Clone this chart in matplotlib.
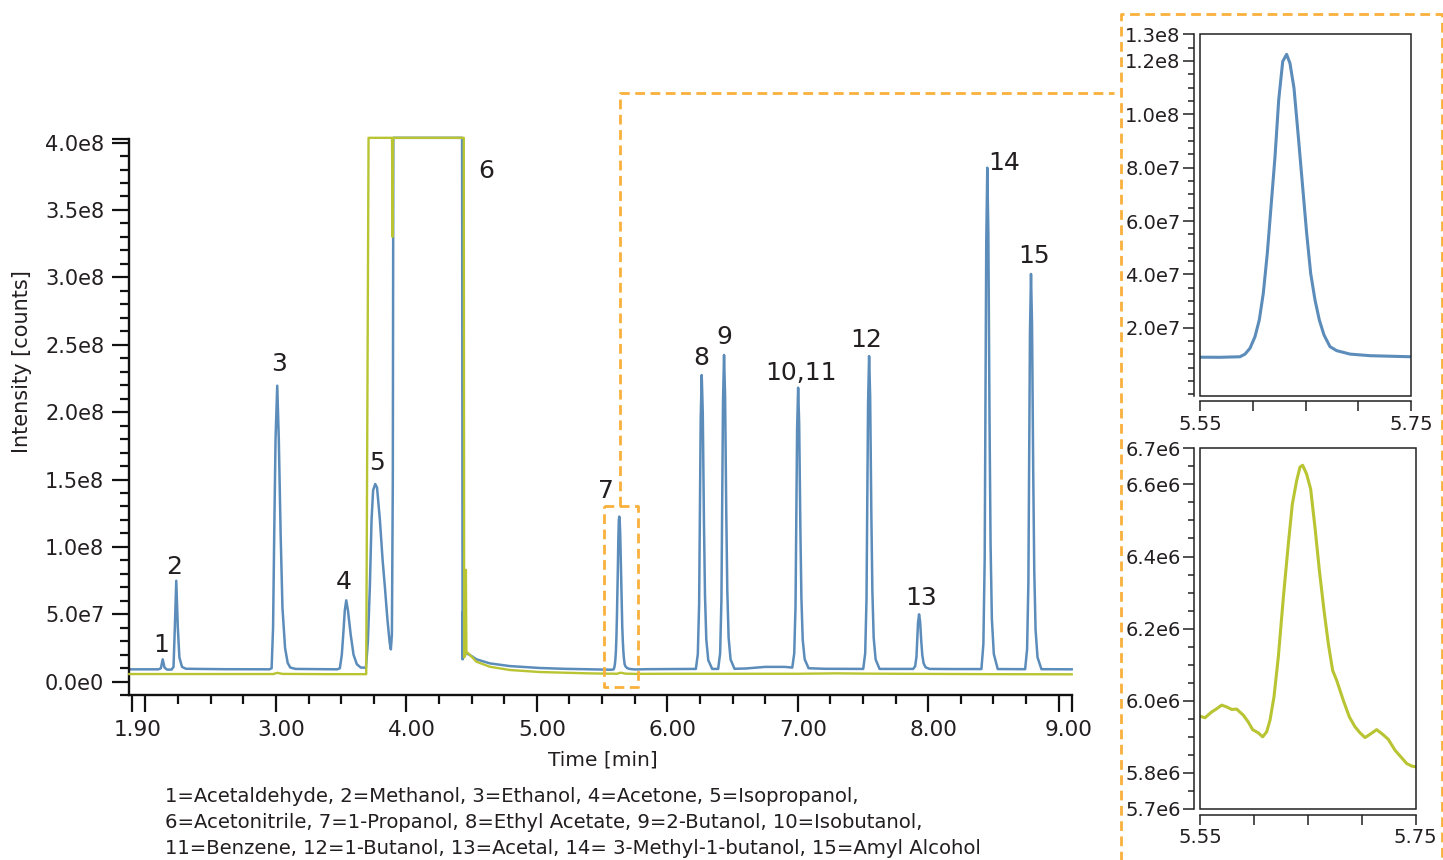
import matplotlib
matplotlib.use("Agg")
import matplotlib.pyplot as plt
from matplotlib.patches import Rectangle
from matplotlib.lines import Line2D
from matplotlib.ticker import MultipleLocator
from matplotlib.transforms import ScaledTranslation

plt.rcParams['font.family'] = ['DejaVu Sans']
plt.rcParams['lines.scale_dashes'] = False

# ---------------- data ----------------
SAT = 4.035e8  # detector saturation level

blue_time = [
    1.876, 2.05, 2.10, 2.118, 2.132, 2.146, 2.165,
    2.20, 2.215, 2.225, 2.236, 2.248, 2.26, 2.28, 2.31, 2.6,
    2.95, 2.967, 2.978, 2.987, 2.997, 3.01, 3.022, 3.036, 3.05, 3.07, 3.09, 3.11, 3.15,
    3.47, 3.49, 3.505, 3.516, 3.528, 3.539, 3.552, 3.573, 3.595, 3.62, 3.65,
    3.69, 3.705, 3.720, 3.733, 3.745, 3.761, 3.775, 3.797, 3.818, 3.835, 3.855, 3.872, 3.881,
    3.889, 3.896, 3.900, 4.427, 4.431, 4.434, 4.437, 4.45, 4.487, 4.538, 4.64, 4.793, 5.02, 5.20, 5.40,
    5.55, 5.569, 5.5879, 5.5927, 5.5974, 5.6021, 5.6062, 5.6100, 5.6138, 5.6176, 5.6211, 5.6246,
    5.6284, 5.6321, 5.6353, 5.6391, 5.6432, 5.6473, 5.6511, 5.6549, 5.6590, 5.6631, 5.6675,
    5.6732, 5.6795, 5.6922, 5.7111, 5.7301, 5.75,
    5.85, 6.0, 6.2,
    6.219, 6.234, 6.244, 6.2495, 6.256, 6.264, 6.272, 6.281, 6.289, 6.299, 6.314, 6.344,
    6.390, 6.405, 6.415, 6.4205, 6.427, 6.435, 6.443, 6.452, 6.460, 6.470, 6.485, 6.515,
    6.60, 6.75, 6.90,
    6.958, 6.973, 6.983, 6.9885, 6.995, 7.003, 7.011, 7.020, 7.028, 7.038, 7.053, 7.083,
    7.2, 7.45,
    7.502, 7.517, 7.527, 7.5325, 7.539, 7.547, 7.555, 7.564, 7.572, 7.582, 7.597, 7.627,
    7.8,
    7.885, 7.900, 7.910, 7.9155, 7.922, 7.930, 7.938, 7.947, 7.955, 7.965, 7.980, 8.010,
    8.2,
    8.408, 8.423, 8.433, 8.4385, 8.445, 8.453, 8.461, 8.470, 8.478, 8.488, 8.503, 8.533,
    8.65,
    8.743, 8.758, 8.768, 8.7735, 8.780, 8.788, 8.796, 8.805, 8.813, 8.823, 8.838, 8.868,
    9.10,
]
blue_intensity = [
    9.2e6, 9.2e6, 9.2e6, 1.0e7, 1.66e7, 1.05e7, 9.0e6,
    9.0e6, 1.1e7, 4.0e7, 7.49e7, 4.0e7, 1.8e7, 1.1e7, 9.6e6, 9.3e6,
    9.2e6, 1.0e7, 4.0e7, 1.1e8, 1.8e8, 2.196e8, 1.8e8, 1.1e8, 5.5e7, 2.5e7, 1.4e7, 1.05e7, 9.5e6,
    9.2e6, 1.0e7, 2.0e7, 3.5e7, 5.3e7, 6.04e7, 5.3e7, 3.5e7, 2.0e7, 1.3e7, 1.05e7,
    1.04e7, 3.0e7, 7.05e7, 1.2e8, 1.42e8, 1.467e8, 1.44e8, 1.2e8, 9.0e7, 7.05e7, 4.58e7, 2.9e7, 2.4e7,
    3.5e7, 1.5e8, SAT, SAT, 1.66e7, 5.2e7, 2.2e7, 2.15e7, 1.98e7, 1.66e7, 1.36e7, 1.16e7, 1.02e7, 9.6e6, 9.2e6,
    8.9e6, 8.9e6, 9.1e6, 1.01e7, 1.23e7, 1.66e7, 2.29e7, 3.29e7, 4.79e7, 6.66e7, 8.41e7, 1.054e8,
    1.198e8, 1.225e8, 1.191e8, 1.098e8, 9.16e7, 7.29e7, 5.54e7, 4.04e7, 3.04e7, 2.29e7, 1.73e7,
    1.29e7, 1.14e7, 1.01e7, 9.5e6, 9.3e6, 9.1e6,
    9.3e6, 9.4e6, 9.5e6,
    9.5e6, 2.04e7, 5.75e7, 1.185e8, 1.948e8, 2.275e8, 1.992e8, 1.185e8, 6.4e7, 3.13e7, 1.6e7, 9.5e6,
    9.5e6, 2.1e7, 6.07e7, 1.26e8, 2.075e8, 2.424e8, 2.121e8, 1.26e8, 6.77e7, 3.28e7, 1.65e7, 9.6e6,
    9.8e6, 1.1e7, 1.1e7,
    1.05e7, 2.09e7, 5.62e7, 1.143e8, 1.87e8, 2.181e8, 1.911e8, 1.143e8, 6.24e7, 3.13e7, 1.67e7, 1.0e7,
    9.6e6, 9.5e6,
    9.5e6, 2.11e7, 6.06e7, 1.256e8, 2.068e8, 2.416e8, 2.114e8, 1.256e8, 6.75e7, 3.27e7, 1.65e7, 9.5e6,
    9.5e6,
    9.5e6, 1.15e7, 1.84e7, 2.98e7, 4.39e7, 5.0e7, 4.47e7, 2.98e7, 1.96e7, 1.36e7, 1.07e7, 9.5e6,
    9.4e6,
    9.4e6, 2.8e7, 9.12e7, 1.954e8, 3.255e8, 3.813e8, 3.33e8, 1.954e8, 1.024e8, 4.66e7, 2.06e7, 9.4e6,
    9.3e6,
    9.3e6, 2.4e7, 7.38e7, 1.559e8, 2.585e8, 3.025e8, 2.644e8, 1.559e8, 8.26e7, 3.86e7, 1.81e7, 9.3e6,
    9.2e6,
]

green_time = [
    1.876, 2.6, 2.98, 3.01, 3.05, 3.4, 3.692, 3.71, 3.890, 3.894, 3.898, 4.440, 4.443,
    4.452, 4.456, 4.460, 4.475, 4.538, 4.64, 4.793, 5.02, 5.40,
    5.55, 5.5546, 5.5608, 5.5655, 5.5701, 5.5747, 5.5794, 5.5840, 5.5902, 5.5948, 5.5988,
    5.6041, 5.6081, 5.6118, 5.6149, 5.6186, 5.6226, 5.6273, 5.6319, 5.6356, 5.6396, 5.6427,
    5.6452, 5.6489, 5.6526, 5.6566, 5.6607, 5.6650, 5.6690, 5.6730, 5.6767, 5.6829, 5.6885,
    5.6937, 5.6984, 5.7030, 5.7076, 5.7138, 5.7194, 5.7246, 5.7308, 5.7355, 5.7417, 5.7463, 5.75,
    6.0, 6.5, 7.0, 7.3, 7.5, 8.0, 8.5, 9.10,
]
green_intensity = [
    5.7e6, 5.7e6, 5.7e6, 6.6e6, 5.8e6, 5.6e6, 5.6e6, SAT, SAT, 3.3e8, SAT, SAT, 1.8e7,
    2.0e7, 8.3e7, 2.2e7, 2.1e7, 1.48e7, 1.11e7, 8.7e6, 7.2e6, 6.2e6,
    5.957e6, 5.953e6, 5.969e6, 5.978e6, 5.988e6, 5.983e6, 5.976e6, 5.977e6, 5.960e6, 5.941e6, 5.920e6,
    5.911e6, 5.900e6, 5.914e6, 5.946e6, 6.011e6, 6.121e6, 6.287e6, 6.435e6, 6.545e6, 6.610e6, 6.648e6,
    6.653e6, 6.628e6, 6.587e6, 6.481e6, 6.361e6, 6.250e6, 6.158e6, 6.084e6, 6.057e6, 6.001e6, 5.955e6,
    5.928e6, 5.911e6, 5.898e6, 5.907e6, 5.920e6, 5.907e6, 5.893e6, 5.863e6, 5.847e6, 5.826e6, 5.819e6, 5.817e6,
    5.9e6, 5.9e6, 5.9e6, 6.2e6, 6.0e6, 5.8e6, 5.6e6, 5.5e6,
]

peak_labels = ['1', '2', '3', '4', '5', '6', '7', '8', '9', '10,11', '12', '13', '14', '15']
peak_time = [2.132, 2.236, 3.01, 3.539, 3.761, 4.431, 5.632, 6.264, 6.435, 7.003, 7.547, 7.93, 8.453, 8.788]
peak_height = [1.66e7, 7.49e7, 2.196e8, 6.04e7, 1.467e8, SAT, 1.225e8, 2.275e8, 2.424e8, 2.181e8,
               2.416e8, 5.0e7, 3.813e8, 3.025e8]

y_tick_values = [0, 5e7, 1e8, 1.5e8, 2e8, 2.5e8, 3e8, 3.5e8, 4e8]
y_tick_labels = ['0.0e0', '5.0e7', '1.0e8', '1.5e8', '2.0e8', '2.5e8', '3.0e8', '3.5e8', '4.0e8']
x_tick_values = [1.90, 2, 3, 4, 5, 6, 7, 8, 9, 9.10]
x_tick_labels = ['1.90', '', '3.00', '4.00', '5.00', '6.00', '7.00', '8.00', '9.00', '']

inset1_y_values = [2e7, 4e7, 6e7, 8e7, 1e8, 1.2e8, 1.3e8]
inset1_y_labels = ['2.0e7', '4.0e7', '6.0e7', '8.0e7', '1.0e8', '1.2e8', '1.3e8']
inset2_y_values = [5.7e6, 5.8e6, 6.0e6, 6.2e6, 6.4e6, 6.6e6, 6.7e6]
inset2_y_labels = ['5.7e6', '5.8e6', '6.0e6', '6.2e6', '6.4e6', '6.6e6', '6.7e6']
inset_x_values = [5.55, 5.60, 5.65, 5.70, 5.75]
inset_x_labels = ['5.55', '', '', '', '5.75']

legend_lines = [
    "1=Acetaldehyde, 2=Methanol, 3=Ethanol, 4=Acetone, 5=Isopropanol,",
    "6=Acetonitrile, 7=1-Propanol, 8=Ethyl Acetate, 9=2-Butanol, 10=Isobutanol,",
    "11=Benzene, 12=1-Butanol, 13=Acetal, 14= 3-Methyl-1-butanol, 15=Amyl Alcohol",
]

# ---------------- style ----------------
BLUE = '#5B8CBA'
GREEN = '#B8C432'
ORANGE = '#FAB03C'
TXT = '#231F20'
W, H = 1443, 860

# label offsets (pixels) relative to the peak apex
label_offsets = [(-2, 14), (-2, 14), (2, 22), (-2, 18), (2, 21), (24, -33), (-13, 26),
                 (0, 17), (0, 18), (3, 15), (-3, 16), (2, 16), (17, 5), (3, 18)]

fig = plt.figure(figsize=(W / 100, H / 100), dpi=100)

def fx(px):
    return px / W

def fy(py):
    return 1 - py / H

# ---------------- main axes ----------------
ax = fig.add_axes([fx(129.3), fy(695.2), (1071.7 - 129.3) / W, (695.2 - 138.5) / H])
ax.plot(blue_time, blue_intensity, color=BLUE, lw=1.8, clip_on=False, zorder=2,
        solid_joinstyle='round')
ax.plot(green_time, green_intensity, color=GREEN, lw=1.7, clip_on=False, zorder=3,
        solid_joinstyle='round')
ax.set_xlim(1.876, 9.10)
ax.set_ylim(-1.0e7, 4.03e8)
for s in ['top', 'right']:
    ax.spines[s].set_visible(False)
for s in ['left', 'bottom']:
    ax.spines[s].set_linewidth(1.7)
    ax.spines[s].set_color('#111111')

ax.set_yticks(y_tick_values + [4.03e8])
ax.set_yticklabels(y_tick_labels + [''])
ax.yaxis.set_minor_locator(MultipleLocator(1e7))
ax.set_xticks(x_tick_values)
ax.set_xticklabels(x_tick_labels)
ax.xaxis.set_minor_locator(MultipleLocator(0.25))
ax.tick_params(axis='both', which='major', direction='out', length=12, width=1.6,
               color='#111111', labelcolor=TXT)
ax.tick_params(axis='both', which='minor', direction='out', length=6.8, width=1.6, color='#111111')
ax.tick_params(axis='y', which='major', labelsize=15, pad=6)
ax.tick_params(axis='x', which='major', labelsize=15.5, pad=6)
for lab in ax.get_xticklabels():
    shift = 10 if lab.get_text() == '9.00' else 5
    lab.set_transform(lab.get_transform() + ScaledTranslation(shift / 100, 0, fig.dpi_scale_trans))

for lab, t, v, (dx, dy) in zip(peak_labels, peak_time, peak_height, label_offsets):
    ax.annotate(lab, xy=(t, v), xytext=(dx, dy), textcoords='offset pixels',
                ha='center', va='center', fontsize=18, color=TXT, annotation_clip=False)

fig.text(fx(22), fy(362), 'Intensity [counts]', rotation=90, ha='center', va='center',
         fontsize=15, color=TXT)
fig.text(fx(603), fy(760), 'Time [min]', ha='center', va='center', fontsize=14.5, color=TXT)
for i, line in enumerate(legend_lines):
    fig.text(fx(165), fy(797 + 26 * i), line, ha='left', va='center', fontsize=14.1, color=TXT)

# ---------------- insets ----------------
def style_inset(a):
    for s in ['top', 'right']:
        a.spines[s].set_visible(False)
    for s in ['left', 'bottom']:
        a.spines[s].set_position(('outward', 4))
        a.spines[s].set_linewidth(1.1)
        a.spines[s].set_color('#222222')
    a.add_patch(Rectangle((0, 0), 1, 1, transform=a.transAxes, fill=False, lw=1.1,
                          ec='#222222', clip_on=False, zorder=5))
    a.tick_params(axis='y', which='major', direction='out', length=8, width=1.1,
                  labelsize=14, pad=2, color='#222222', labelcolor=TXT)
    a.tick_params(axis='y', which='minor', direction='out', length=4, width=1.1, color='#222222')
    a.tick_params(axis='x', which='major', direction='out', length=7, width=1.1,
                  labelsize=14, pad=3, color='#222222', labelcolor=TXT)
    a.set_xlim(5.55, 5.75)
    a.set_xticks(inset_x_values)
    a.set_xticklabels(inset_x_labels)

ax1 = fig.add_axes([fx(1200), fy(395.7), 211 / W, (395.7 - 34.3) / H])
ax1.plot(blue_time, blue_intensity, color=BLUE, lw=2.2)
ax1.set_ylim(-5.5e6, 1.3e8)
style_inset(ax1)
ax1.set_yticks(inset1_y_values)
ax1.set_yticklabels(inset1_y_labels)
ax1.yaxis.set_minor_locator(MultipleLocator(5e6))

ax2 = fig.add_axes([fx(1200), fy(809), 215.7 / W, (809 - 448.3) / H])
ax2.plot(green_time, green_intensity, color=GREEN, lw=2.2)
ax2.set_ylim(5.7e6, 6.7e6)
style_inset(ax2)
ax2.set_yticks(inset2_y_values)
ax2.set_yticklabels(inset2_y_labels)
ax2.yaxis.set_minor_locator(MultipleLocator(5e4))

# ---------------- orange dashed call-out ----------------
def dashed(xs, ys):
    fig.add_artist(Line2D([fx(x) for x in xs], [fy(y) for y in ys], transform=fig.transFigure,
                          color=ORANGE, lw=2.0, linestyle=(0, (7.0, 4.0)), zorder=10))

dashed([604, 638, 638, 604, 604], [506, 506, 686.7, 686.7, 506])
dashed([620, 620, 1114], [506, 93, 93])
dashed([1121, 1121, 1441.5, 1441.5], [880, 14, 14, 880])

fig.savefig('out.png', dpi=100)
